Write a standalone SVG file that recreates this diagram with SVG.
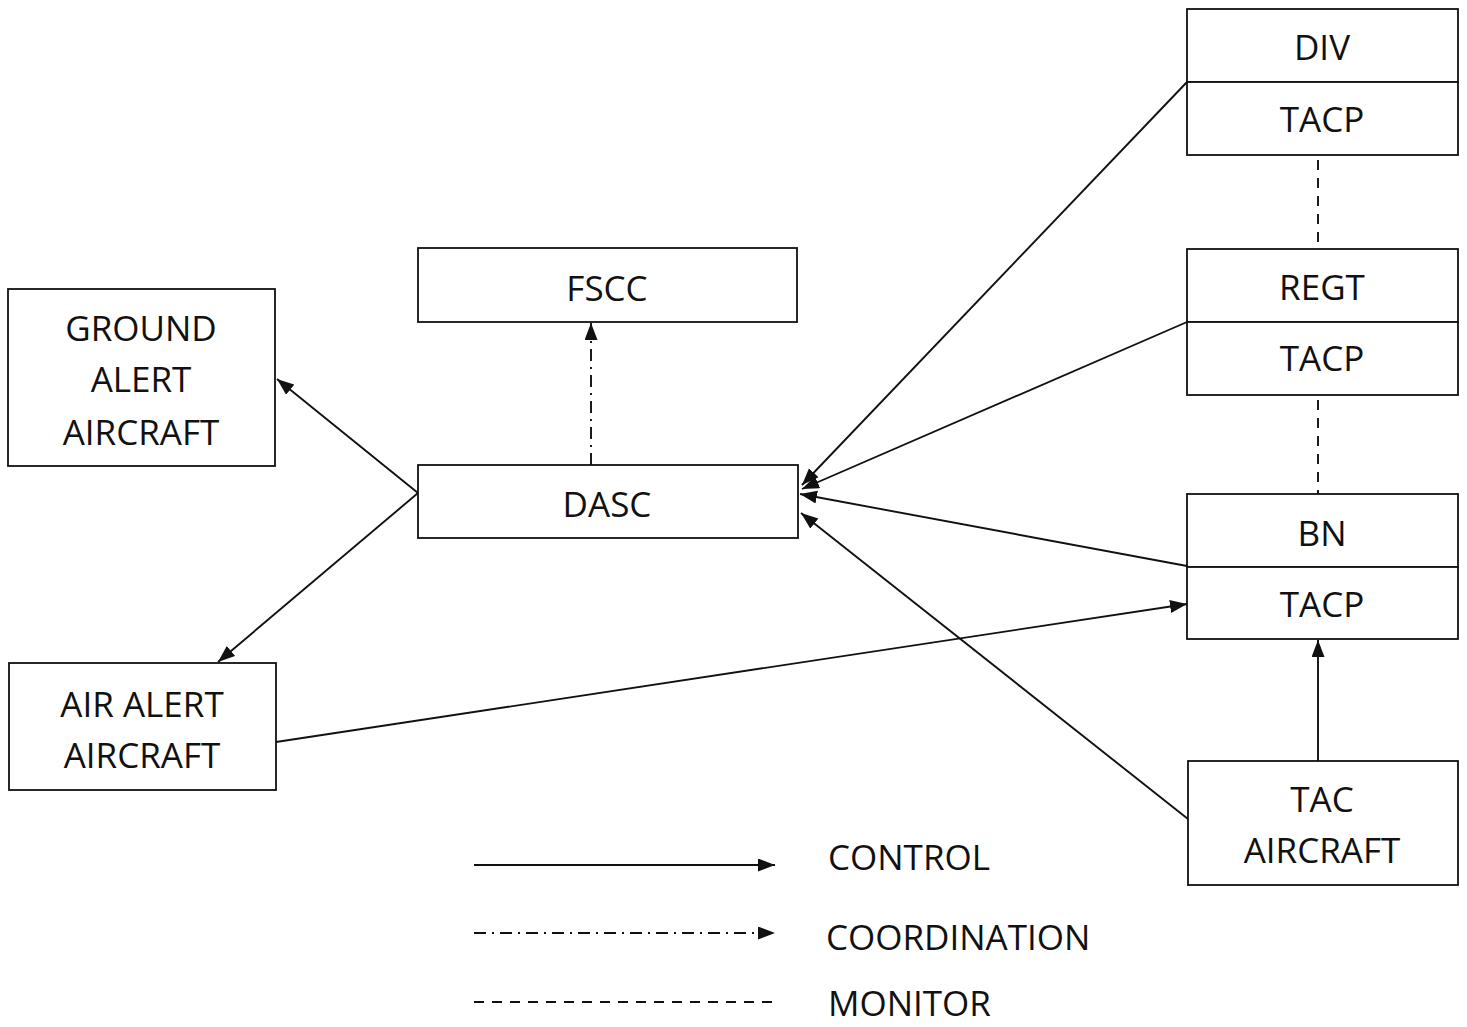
<svg xmlns="http://www.w3.org/2000/svg" width="1467" height="1027" viewBox="0 0 1467 1027">
<style>
.box{fill:#fff;stroke:#111;stroke-width:1.8}
.t{font-family:"Open Sans","Liberation Sans",sans-serif;font-size:35px;fill:#111;text-anchor:middle}
.c{fill:none;stroke:#111;stroke-width:1.9}
.ctl{marker-end:url(#ah)}
.coord{stroke-dasharray:12 6 2 6}
.mon{stroke-dasharray:10 8}
</style>
<defs>
<marker id="ah" markerUnits="userSpaceOnUse" markerWidth="20" markerHeight="14" refX="17" refY="6.5" orient="auto">
<path d="M0,0 L17,6.5 L0,13 Z" fill="#111"/>
</marker>
</defs>
<rect width="1467" height="1027" fill="#fff"/>
<g id="connectors">
<line class="c ctl" x1="418" y1="493" x2="277" y2="379"/>
<line class="c ctl" x1="418" y1="493" x2="218" y2="662"/>
<line class="c coord ctl" x1="591" y1="465" x2="591" y2="323"/>
<line class="c ctl" x1="1187" y1="82" x2="802" y2="485"/>
<line class="c ctl" x1="1187" y1="322" x2="802" y2="489"/>
<line class="c ctl" x1="1187" y1="566" x2="800" y2="494"/>
<line class="c ctl" x1="1188" y1="819" x2="801" y2="513"/>
<line class="c ctl" x1="276" y1="742" x2="1187" y2="604"/>
<line class="c ctl" x1="1318" y1="761" x2="1318" y2="640"/>
<line class="c mon" x1="1318" y1="160" x2="1318" y2="249"/>
<line class="c mon" x1="1318" y1="400" x2="1318" y2="494"/>
</g>
<g id="fscc"><rect class="box" x="418" y="248" width="379" height="74"/><text class="t" x="607" y="301">FSCC</text></g>
<g id="dasc"><rect class="box" x="418" y="465" width="380" height="73"/><text class="t" x="607" y="517">DASC</text></g>
<g id="ground-alert"><rect class="box" x="8" y="289" width="267" height="177"/><text class="t" x="141" y="341">GROUND</text><text class="t" x="141" y="392">ALERT</text><text class="t" x="141" y="445">AIRCRAFT</text></g>
<g id="air-alert"><rect class="box" x="9" y="663" width="267" height="127"/><text class="t" x="142" y="717">AIR ALERT</text><text class="t" x="142" y="768">AIRCRAFT</text></g>
<g id="div"><rect class="box" x="1187" y="9" width="271" height="73"/><text class="t" x="1322" y="60">DIV</text></g>
<g id="div-tacp"><rect class="box" x="1187" y="82" width="271" height="73"/><text class="t" x="1322" y="132">TACP</text></g>
<g id="regt"><rect class="box" x="1187" y="249" width="271" height="73"/><text class="t" x="1322" y="300">REGT</text></g>
<g id="regt-tacp"><rect class="box" x="1187" y="322" width="271" height="73"/><text class="t" x="1322" y="371">TACP</text></g>
<g id="bn"><rect class="box" x="1187" y="494" width="271" height="73"/><text class="t" x="1322" y="546">BN</text></g>
<g id="bn-tacp"><rect class="box" x="1187" y="567" width="271" height="72"/><text class="t" x="1322" y="617">TACP</text></g>
<g id="tac-aircraft"><rect class="box" x="1188" y="761" width="270" height="124"/><text class="t" x="1322" y="812">TAC</text><text class="t" x="1322" y="863">AIRCRAFT</text></g>
<g id="legend">
<line class="c ctl" x1="474" y1="865" x2="775" y2="865"/>
<line class="c coord ctl" x1="474" y1="933" x2="775" y2="933"/>
<line class="c mon" x1="474" y1="1002" x2="775" y2="1002"/>
<text class="t" x="828" y="870" style="text-anchor:start">CONTROL</text>
<text class="t" x="826" y="950" style="text-anchor:start">COORDINATION</text>
<text class="t" x="828" y="1016" style="text-anchor:start">MONITOR</text>
</g>
</svg>
